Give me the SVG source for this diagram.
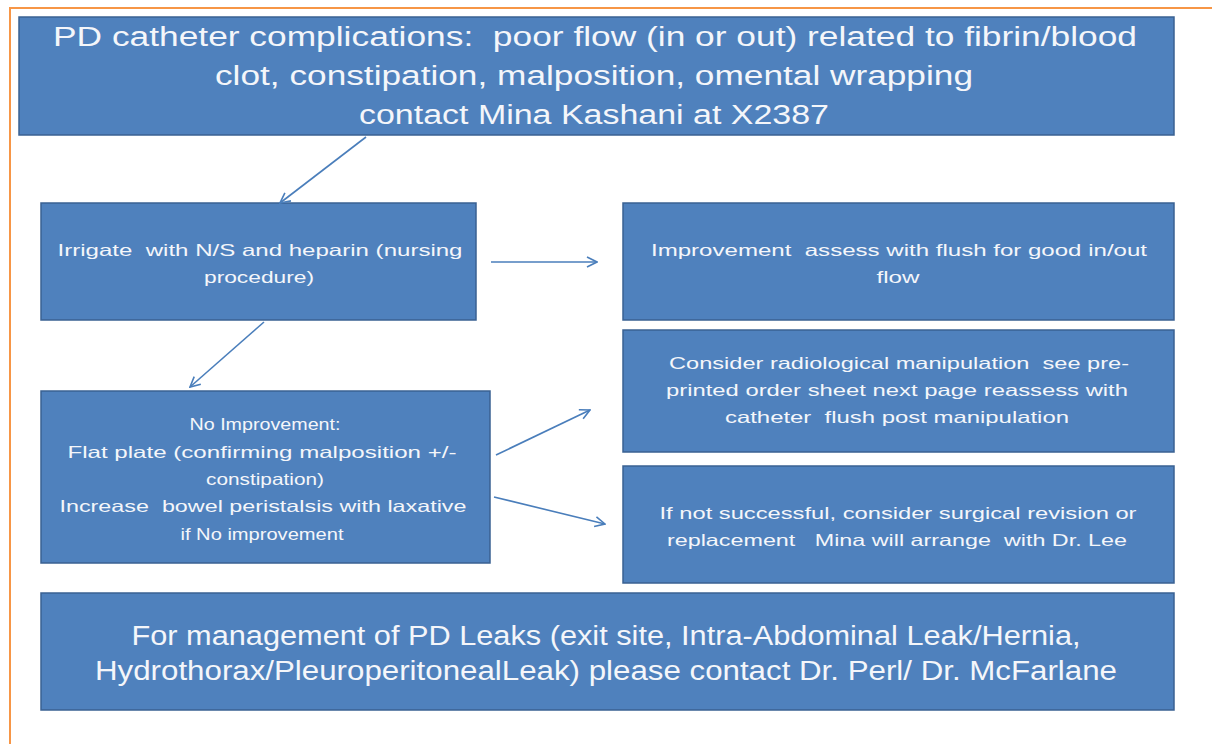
<svg xmlns="http://www.w3.org/2000/svg" width="1212" height="744" viewBox="0 0 1212 744">
  <defs>
    <marker id="arrow" viewBox="0 0 12 12" refX="11" refY="6" markerWidth="12" markerHeight="12" markerUnits="userSpaceOnUse" orient="auto">
      <path d="M1,1 L11,6 L1,11" fill="none" stroke="#4A7EBB" stroke-width="1.6"/>
    </marker>
  </defs>
  <style>
    .box { fill: #4F81BD; stroke: #3A6192; stroke-width: 1.5; }
    text { white-space: pre; }
    .big { font-family: "Liberation Sans", Arial, sans-serif; font-size: 27px; fill: #F4F6FA; text-anchor: middle; }
    .small { font-family: "Liberation Sans", Arial, sans-serif; font-size: 16.5px; fill: #F4F6FA; text-anchor: middle; }
    .conn { stroke: #4A7EBB; stroke-width: 1.6; fill: none; marker-end: url(#arrow); }
  </style>
  <rect width="1212" height="744" fill="#FFFFFF"/>
  <!-- page frame -->
  <path d="M10,744 L10,8 L1212,8" fill="none" stroke="#F79646" stroke-width="2"/>

  <g id="complications">
    <rect class="box" x="19" y="17" width="1155" height="118"/>
    <text class="big" x="595" y="46" textLength="1084" lengthAdjust="spacingAndGlyphs">PD catheter complications:  poor flow (in or out) related to fibrin/blood</text>
    <text class="big" x="594" y="85" textLength="758" lengthAdjust="spacingAndGlyphs">clot, constipation, malposition, omental wrapping</text>
    <text class="big" x="594" y="124" textLength="470" lengthAdjust="spacingAndGlyphs">contact Mina Kashani at X2387</text>
  </g>

  <g id="irrigate">
    <rect class="box" x="41" y="203" width="435" height="117"/>
    <text class="small" x="260" y="256" textLength="405" lengthAdjust="spacingAndGlyphs">Irrigate  with N/S and heparin (nursing</text>
    <text class="small" x="259" y="283" textLength="110" lengthAdjust="spacingAndGlyphs">procedure)</text>
  </g>

  <g id="improvement">
    <rect class="box" x="623" y="203" width="551" height="117"/>
    <text class="small" x="899" y="256" textLength="496" lengthAdjust="spacingAndGlyphs">Improvement  assess with flush for good in/out</text>
    <text class="small" x="898" y="283" textLength="43" lengthAdjust="spacingAndGlyphs">flow</text>
  </g>

  <g id="radiological">
    <rect class="box" x="623" y="330" width="551" height="122"/>
    <text class="small" x="899" y="369" textLength="460" lengthAdjust="spacingAndGlyphs">Consider radiological manipulation  see pre-</text>
    <text class="small" x="897" y="396" textLength="462" lengthAdjust="spacingAndGlyphs">printed order sheet next page reassess with</text>
    <text class="small" x="897" y="423" textLength="344" lengthAdjust="spacingAndGlyphs">catheter  flush post manipulation</text>
  </g>

  <g id="no-improvement">
    <rect class="box" x="41" y="391" width="449" height="172"/>
    <text class="small" x="265" y="430" textLength="151" lengthAdjust="spacingAndGlyphs">No Improvement:</text>
    <text class="small" x="262" y="458" textLength="389" lengthAdjust="spacingAndGlyphs">Flat plate (confirming malposition +/-</text>
    <text class="small" x="265" y="485" textLength="118" lengthAdjust="spacingAndGlyphs">constipation)</text>
    <text class="small" x="263" y="512" textLength="407" lengthAdjust="spacingAndGlyphs">Increase  bowel peristalsis with laxative</text>
    <text class="small" x="262" y="540" textLength="163" lengthAdjust="spacingAndGlyphs">if No improvement</text>
  </g>

  <g id="surgical">
    <rect class="box" x="623" y="466" width="551" height="117"/>
    <text class="small" x="898" y="519" textLength="477" lengthAdjust="spacingAndGlyphs">If not successful, consider surgical revision or</text>
    <text class="small" x="897" y="546" textLength="460" lengthAdjust="spacingAndGlyphs">replacement   Mina will arrange  with Dr. Lee</text>
  </g>

  <g id="leaks">
    <rect class="box" x="41" y="593" width="1133" height="117"/>
    <text class="big" x="606" y="645" textLength="949" lengthAdjust="spacingAndGlyphs">For management of PD Leaks (exit site, Intra-Abdominal Leak/Hernia,</text>
    <text class="big" x="606" y="680" textLength="1022" lengthAdjust="spacingAndGlyphs">Hydrothorax/PleuroperitonealLeak) please contact Dr. Perl/ Dr. McFarlane</text>
  </g>

  <g id="connectors">
    <line class="conn" x1="366" y1="137" x2="280" y2="203"/>
    <line class="conn" x1="491" y1="262" x2="597" y2="262"/>
    <line class="conn" x1="264" y1="322" x2="190" y2="387"/>
    <line class="conn" x1="496" y1="455" x2="590" y2="410"/>
    <line class="conn" x1="494" y1="497" x2="605" y2="524"/>
  </g>
</svg>
